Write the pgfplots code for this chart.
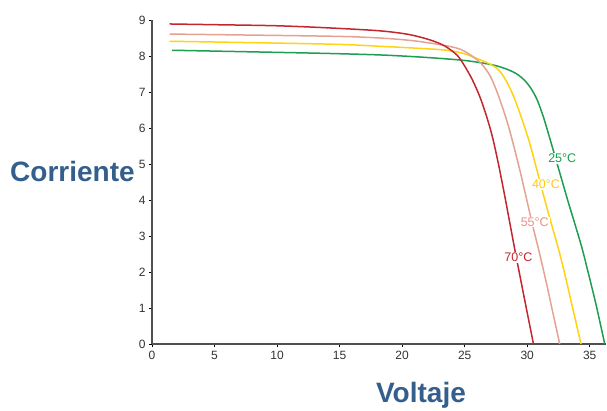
\documentclass[border=0pt]{standalone}
\usepackage{fontspec}
\setmainfont{Liberation Sans}
\usepackage{pgfplots}
\pgfplotsset{compat=1.18}
\definecolor{cgreen}{RGB}{30,158,80}
\definecolor{cyellow}{RGB}{255,210,20}
\definecolor{cpink}{RGB}{228,163,146}
\definecolor{cred}{RGB}{195,38,46}
\definecolor{cblue}{RGB}{52,94,140}
\definecolor{caxis}{RGB}{80,80,80}
\begin{document}
\begin{tikzpicture}
\begin{axis}[
  scale only axis,
  width=454pt, height=324pt,
  xmin=0, xmax=36.3, ymin=0, ymax=9,
  axis x line=bottom, axis y line=left,
  axis line style={-, caxis, line width=1.5pt},
  xtick={0,5,...,35}, ytick={0,1,...,9},
  tick align=outside, major tick length=3pt,
  tick style={black, line width=0.6pt},
  /pgf/number format/assume math mode=true,
  tick label style={font=\fontsize{12}{14}\selectfont, text=black!80},
  xticklabel style={yshift=-1pt},
  clip=false,
]
\addplot[cgreen, line width=1.5pt, smooth, tension=0.5] coordinates {
 (1.6,8.16) (10.2,8.10) (14.2,8.07) (18.2,8.03) (21.5,7.97) (24.9,7.88) (27.0,7.77)
 (28.0,7.68) (28.8,7.57) (29.3,7.47) (29.8,7.32) (30.3,7.10) (30.8,6.78) (31.3,6.30) (31.8,5.72)
 (32.3,5.12) (32.8,4.52) (33.3,3.92) (33.8,3.35) (34.4,2.64) (34.9,1.95) (35.5,1.10) (36.2,0)};
\addplot[cyellow, line width=1.5pt, smooth, tension=0.5] coordinates {
 (1.4,8.41) (14.2,8.33) (18.2,8.27) (21.0,8.22) (23.6,8.16) (25.0,8.06) (26.2,7.90) (27.0,7.78) (27.7,7.62)
 (28.2,7.38) (28.7,7.05) (29.2,6.62) (29.7,6.12) (30.2,5.58) (30.7,4.93) (31.2,4.27) (31.8,3.50)
 (32.5,2.64) (33.0,1.95) (33.6,1.05) (34.3,0)};
\addplot[cpink, line width=1.5pt, smooth, tension=0.5] coordinates {
 (1.4,8.61) (14.2,8.55) (18.2,8.50) (21.0,8.42) (23.6,8.28) (24.7,8.18) (25.5,8.02) (26.3,7.80) (27.0,7.47)
 (27.5,7.08) (28.0,6.60) (28.5,6.05) (29.0,5.40) (29.5,4.70) (30.0,3.95) (30.5,3.20) (30.9,2.64)
 (31.5,1.75) (32.0,0.95) (32.6,0)};
\addplot[cred, line width=1.5pt, smooth, tension=0.5] coordinates {
 (1.4,8.89) (5,8.87) (10,8.84) (14.2,8.78) (18.2,8.70) (20.5,8.60) (22.2,8.45) (23.4,8.28) (24.4,8.02)
 (25.0,7.72) (25.6,7.35) (26.2,6.88) (26.7,6.38) (27.2,5.78) (27.7,5.00) (28.2,4.12) (28.6,3.38)
 (29.0,2.64) (29.5,1.75) (30.0,0.87) (30.5,0)};
\node[fill=white, inner sep=1pt, text=cgreen, font=\fontsize{12.5}{13}\selectfont] at (axis cs:32.8,5.16) {25°C};
\node[fill=white, inner sep=1pt, text=cyellow!90!orange, font=\fontsize{12.5}{13}\selectfont] at (axis cs:31.5,4.43) {40°C};
\node[fill=white, inner sep=1pt, text=cpink!90!red, font=\fontsize{12.5}{13}\selectfont] at (axis cs:30.6,3.39) {55°C};
\node[fill=white, inner sep=1pt, text=cred, font=\fontsize{12.5}{13}\selectfont] at (axis cs:29.3,2.40) {70°C};
\end{axis}
\node[anchor=base west, inner sep=0pt, text=cblue, font=\fontsize{28}{30}\selectfont\bfseries] at (-142pt,163pt) {Corriente};
\node[anchor=base, inner sep=0pt, text=cblue, font=\fontsize{28}{30}\selectfont\bfseries] at (269pt,-58pt) {Voltaje};
\path (-152pt,-66pt) rectangle (455pt,344pt);
\end{tikzpicture}
\end{document}
